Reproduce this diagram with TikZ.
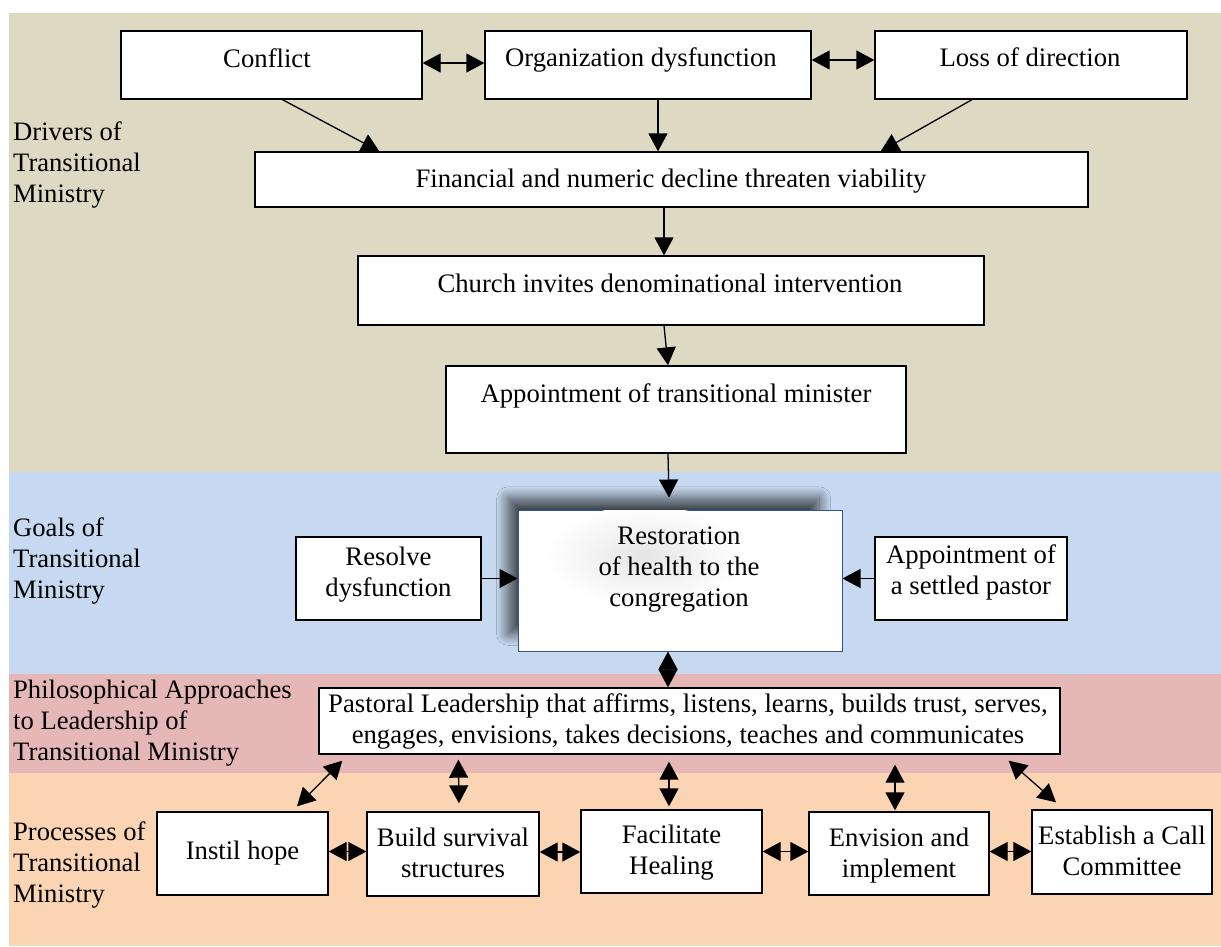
\documentclass[tikz,border=0pt]{standalone}
\usepackage{fontspec}
\setmainfont{Liberation Serif}
\usetikzlibrary{arrows.meta,shadows.blur}
\definecolor{bgbeige}{RGB}{221,217,195}
\definecolor{bgblue}{RGB}{198,217,240}
\definecolor{bgpink}{RGB}{229,184,183}
\definecolor{bgpeach}{RGB}{251,212,180}
\definecolor{restborder}{RGB}{47,85,151}
\begin{document}
\begin{tikzpicture}[x=1pt,y=-1pt,
  box/.style={draw=black, fill=white, line width=1.3pt, inner sep=0pt},
  txt/.style={font=\fontsize{26.7}{31}\selectfont, align=center, inner sep=0pt, anchor=base},
  lbl/.style={font=\fontsize{26.6}{31}\selectfont, align=left, inner sep=0pt, anchor=base west},
  tip/.tip={Triangle[length=18pt,width=19pt]},
  arr/.style={line width=1.3pt, -tip},
  darr/.style={line width=1.3pt, tip-tip}]
\useasboundingbox (0,0) rectangle (1221,946);
% bands
\fill[bgbeige] (9,13) rectangle (1221,472);
\fill[bgblue] (9,472) rectangle (1221,674);
\fill[bgpink] (9,674) rectangle (1221,773);
\fill[bgpeach] (9,773) rectangle (1221,946);
% band labels (anchor base = baseline of last line)
\node[lbl] (lab1) at (13,202) {Drivers of\\Transitional\\Ministry};
\node[lbl] (lab2) at (13,598) {Goals of\\Transitional\\Ministry};
\node[lbl] (lab3) at (13,760) {Philosophical Approaches\\to Leadership of\\Transitional Ministry};
\node[lbl] (lab4) at (13,902) {Processes of\\Transitional\\Ministry};
% drivers
\node[box, minimum width=301pt, minimum height=68pt] (conf) at (271.5,65) {};
\node[txt] (conft) at (267,67) {Conflict};
\node[box, minimum width=326pt, minimum height=68pt] (org) at (648,65) {};
\node[txt] (orgt) at (641,66) {Organization dysfunction};
\node[box, minimum width=312pt, minimum height=68pt] (loss) at (1031,65) {};
\node[txt] (losst) at (1030,66) {Loss of direction};
\node[box, minimum width=833pt, minimum height=55pt] (fin) at (671.5,179.5) {};
\node[txt] (fint) at (671,187) {Financial and numeric decline threaten viability};
\node[box, minimum width=626pt, minimum height=69pt] (church) at (671,290.5) {};
\node[txt] (churcht) at (670,292) {Church invites denominational intervention};
\node[box, minimum width=460pt, minimum height=87pt] (appt) at (676,409.5) {};
\node[txt] (apptt) at (676,402) {Appointment of transitional minister};
% goals
\node[box, draw=restborder, line width=1pt, minimum width=324pt, minimum height=141pt,
  blur shadow={shadow xshift=-17pt, shadow yshift=15pt, shadow scale=0.96, shadow blur radius=12pt, shadow blur steps=24, shadow opacity=70}] (rest) at (680,580.5) {};
\begin{scope}
\clip ([xshift=1pt,yshift=-1pt]rest.north west) rectangle ([xshift=-1pt,yshift=1pt]rest.south east);
\shade[inner color=black!10, outer color=white] (645,556) ellipse [x radius=100pt, y radius=50pt];
\end{scope}
\node[txt] (restt) at (679,606) {Restoration\\of health to the\\congregation};
\node[box, minimum width=185pt, minimum height=83pt] (resolve) at (388.5,578.5) {};
\node[txt] (resolvet) at (388.5,596) {Resolve\\dysfunction};
\node[box, minimum width=192pt, minimum height=83pt] (settled) at (971,578.5) {};
\node[txt] (settledt) at (971,594) {Appointment of\\a settled pastor};
% leadership
\node[box, minimum width=741pt, minimum height=66pt] (past) at (689.5,721) {};
\node[txt] (pastt) at (688,743) {Pastoral Leadership that affirms, listens, learns, builds trust, serves,\\engages, envisions, takes decisions, teaches and communicates};
% processes
\node[box, minimum width=171pt, minimum height=83pt] (instil) at (242.5,853.5) {};
\node[txt] (instilt) at (242.5,859) {Instil hope};
\node[box, minimum width=172pt, minimum height=84pt] (build) at (453,854) {};
\node[txt] (buildt) at (453,877) {Build survival\\structures};
\node[box, minimum width=181pt, minimum height=83pt] (facil) at (671.5,851.5) {};
\node[txt] (facilt) at (671.5,874) {Facilitate\\Healing};
\node[box, minimum width=180pt, minimum height=83pt] (envis) at (899,853.5) {};
\node[txt] (envist) at (899,877) {Envision and\\implement};
\node[box, minimum width=180pt, minimum height=84pt] (estab) at (1122,852) {};
\node[txt] (estabt) at (1122,875) {Establish a Call\\Committee};
% connectors: drivers
\draw[darr] ([yshift=2pt]conf.east) -- ([yshift=2pt]org.west);
\draw[darr] ([yshift=5pt]org.east) -- ([yshift=5pt]loss.west);
\draw[arr] ([xshift=11pt]conf.south) -- ([xshift=125pt]fin.north west);
\draw[arr] ([xshift=10pt]org.south) -- ([xshift=-13.5pt]fin.north);
\draw[arr] ([xshift=-59pt]loss.south) -- ([xshift=-208pt]fin.north east);
\draw[arr] ([xshift=-7.5pt]fin.south) -- ([xshift=-7pt]church.north);
\draw[arr] ([xshift=-7pt]church.south) -- ([xshift=-8pt]appt.north);
\draw[arr] ([xshift=-8pt]appt.south) -- ([xshift=-11pt,yshift=12pt]rest.north);
% goals
\draw[arr] (resolve.east) -- (resolve.east -| rest.west);
\draw[arr] (settled.west) -- (settled.west -| rest.east);
\draw[darr] ([xshift=-12pt]rest.south) -- ([xshift=-21.5pt]past.north);
% leadership to processes
\draw[darr] ([xshift=24pt,yshift=-6pt]past.south west) -- ([xshift=54.5pt,yshift=5pt]instil.north);
\draw[darr] ([xshift=140pt,yshift=-5pt]past.south west) -- ([xshift=6pt,yshift=8pt]build.north);
\draw[darr] ([xshift=-20.5pt,yshift=-7pt]past.south) -- ([xshift=-2.5pt,yshift=3pt]facil.north);
\draw[darr] ([xshift=205.5pt,yshift=-10pt]past.south) -- ([xshift=-4pt,yshift=1pt]envis.north);
\draw[darr] ([xshift=-52pt,yshift=-6pt]past.south east) -- ([xshift=-66pt,yshift=7pt]estab.north);
% processes horizontal
\draw[darr] ([yshift=2pt]instil.east) -- ([yshift=2pt]instil.east -| build.west);
\draw[darr] ([yshift=2pt]build.east) -- ([yshift=2pt]build.east -| facil.west);
\draw[darr] (facil.east) -- (facil.east -| envis.west);
\draw[darr] ([yshift=2pt]envis.east) -- ([yshift=2pt]envis.east -| estab.west);
\end{tikzpicture}
\end{document}
